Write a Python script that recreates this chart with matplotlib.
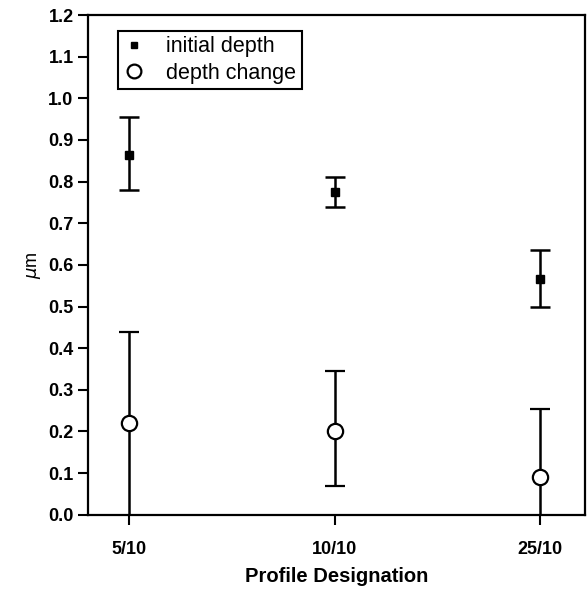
import matplotlib
matplotlib.use('Agg')
import matplotlib.pyplot as plt

profiles = ['5/10', '10/10', '25/10']
initial_depth = [0.865, 0.775, 0.565]
initial_lo = [0.78, 0.74, 0.50]
initial_hi = [0.955, 0.81, 0.635]
depth_change = [0.22, 0.20, 0.09]
change_lo = [-0.05, 0.07, -0.05]
change_hi = [0.44, 0.345, 0.255]

plt.rcParams['font.family'] = ['Liberation Sans', 'DejaVu Sans']

fig = plt.figure(figsize=(5.88, 6.0), dpi=100)
ax = fig.add_axes([0.15, 0.142, 0.845, 0.833])

x = list(range(len(profiles)))
yerr_i = [[m - l for m, l in zip(initial_depth, initial_lo)],
          [h - m for m, h in zip(initial_depth, initial_hi)]]
yerr_c = [[m - l for m, l in zip(depth_change, change_lo)],
          [h - m for m, h in zip(depth_change, change_hi)]]

ax.errorbar(x, initial_depth, yerr=yerr_i, fmt='s', color='black', ms=5.5,
            ecolor='black', elinewidth=1.8, capsize=7, capthick=1.8,
            label='initial depth')
ax.errorbar(x, depth_change, yerr=yerr_c, fmt='o', color='black', ms=11,
            mfc='white', mew=1.6, ecolor='black', elinewidth=1.8,
            capsize=7, capthick=1.8, label='depth change')
ax.set_ylim(0, 1.2)
ax.set_xlim(-0.2, 2.22)
ax.set_yticks([i / 10 for i in range(13)])
ax.set_yticklabels(['%.1f' % (i / 10) for i in range(13)])
ax.set_xticks(x)
ax.set_xticklabels(profiles)
for sp in ax.spines.values():
    sp.set_linewidth(1.6)
ax.tick_params(direction='out', length=7, width=1.5, labelsize=13)
ax.tick_params(axis='x', pad=12)
for t in ax.get_xticklabels() + ax.get_yticklabels():
    t.set_fontweight('bold')
ax.set_xlabel('Profile Designation', fontsize=14.5, fontweight='bold',
              labelpad=6)
ax.set_ylabel('$\\mu$m', fontsize=13)

h, l = ax.get_legend_handles_labels()
h = [hh[0] for hh in h]
leg = ax.legend(h, l, loc='upper left', bbox_to_anchor=(0.038, 0.99),
                fontsize=15.5, fancybox=False, edgecolor='black',
                framealpha=1, handletextpad=1.0, borderpad=0.25,
                labelspacing=0.25, handlelength=1.0, markerscale=0.9)
leg.get_frame().set_linewidth(1.5)

fig.savefig('out.png', dpi=100)
